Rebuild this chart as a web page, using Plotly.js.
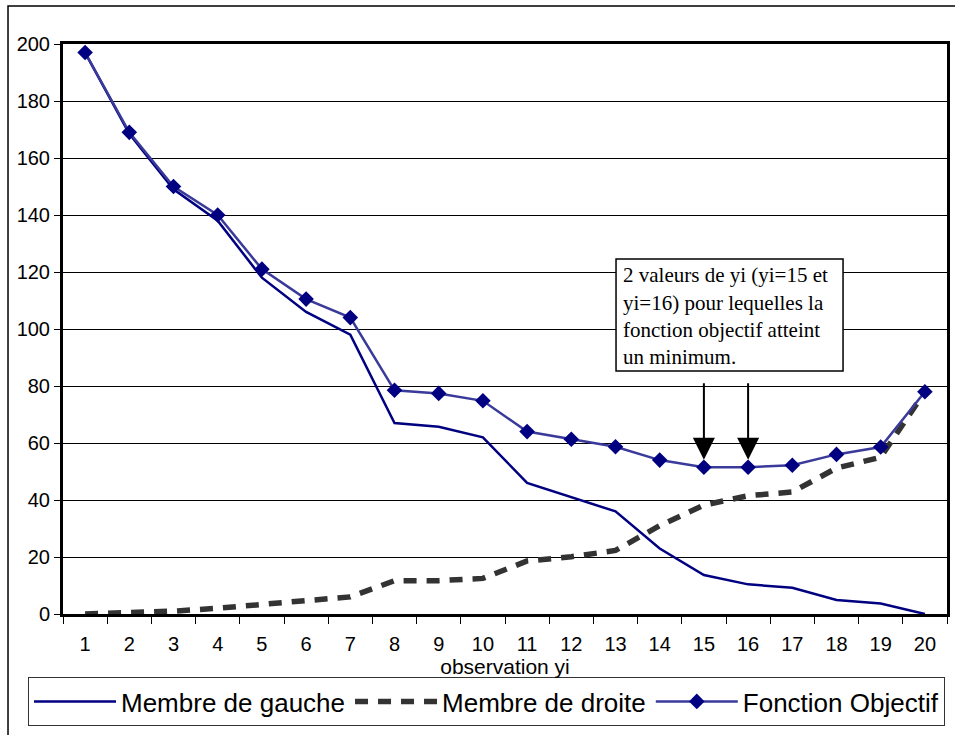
<!DOCTYPE html>
<html>
<head>
<meta charset="utf-8">
<script src="https://cdn.plot.ly/plotly-3.0.1.min.js"></script>
<style>html,body{margin:0;padding:0;background:#fff;}#chart{width:955px;height:735px;}</style>
</head>
<body>
<div id="chart"></div>
<script>
// ---- data ----
const categories = ['1','2','3','4','5','6','7','8','9','10','11','12','13','14','15','16','17','18','19','20'];
const membreGauche = [197, 168.5, 149, 138, 118, 106, 98, 67, 65.7, 62, 46, 41, 36, 23, 13.7, 10.4, 9.2, 4.9, 3.7, 0];
const membreDroite = [0, 0.5, 1, 2, 3.5, 4.7, 6, 11.7, 11.7, 12.5, 18.6, 20.1, 22.3, 31, 38.2, 41.5, 42.8, 51.2, 55, 78];
const fonctionObjectif = [197, 169, 150, 140, 121, 110.5, 104, 78.5, 77.4, 74.8, 64, 61.3, 58.7, 54, 51.5, 51.5, 52.2, 56, 58.6, 78];
const seriesNames = ['Membre de gauche', 'Membre de droite', 'Fonction Objectif'];
const yTicks = [0, 20, 40, 60, 80, 100, 120, 140, 160, 180, 200];
const xTitle = 'observation yi';
const noteLines = ['2 valeurs de yi (yi=15 et', 'yi=16) pour lequelles la', 'fonction objectif atteint', 'un minimum.'];
const minimumAt = ['15', '16'];

const sans = 'Liberation Sans, Arial, sans-serif';
const serif = 'Liberation Serif, Times New Roman, serif';

const traces = [
  {x: categories, y: membreGauche, name: seriesNames[0], type: 'scatter', mode: 'lines',
   line: {color: '#000080', width: 2.5}},
  {x: categories, y: membreDroite, name: seriesNames[1], type: 'scatter', mode: 'lines',
   line: {color: '#333333', width: 5.5, dash: '13px,10px'}},
  {x: categories, y: fonctionObjectif, name: seriesNames[2], type: 'scatter', mode: 'lines+markers',
   line: {color: '#3a3a9a', width: 2.5},
   marker: {symbol: 'diamond', size: 12, color: '#000080'}, cliponaxis: false}
];

const annotations = [];
const lineY = [0.5947, 0.5461, 0.4982, 0.4509];
noteLines.forEach((t, i) => {
  annotations.push({xref: 'paper', yref: 'paper', x: 0.631, y: lineY[i], xanchor: 'left', yanchor: 'middle',
    text: t, showarrow: false, font: {family: serif, size: 21, color: '#000'}});
});
minimumAt.forEach(c => {
  const idx = categories.indexOf(c);
  annotations.push({xref: 'x', yref: 'y', x: idx, y: fonctionObjectif[idx] + 2.6, text: '',
    showarrow: true, arrowhead: 2, arrowsize: 2.2, arrowwidth: 2, arrowcolor: '#000',
    axref: 'pixel', ayref: 'pixel', ax: 0, ay: -78, standoff: 0});
});

const layout = {
  width: 955, height: 735,
  margin: {l: 63, r: 8, t: 44, b: 121},
  paper_bgcolor: '#fff', plot_bgcolor: '#fff',
  font: {family: sans, color: '#000', size: 20},
  showlegend: true,
  legend: {orientation: 'h', x: -0.0396, y: -0.1105, xanchor: 'left', yanchor: 'top',
    bordercolor: '#333', borderwidth: 1, bgcolor: '#fff', itemwidth: 82,
    font: {family: sans, size: 26, color: '#000'}},
  xaxis: {type: 'category', range: [-0.5, 19.5], tickson: 'boundaries',
    showgrid: false, showline: true, linecolor: '#000', linewidth: 3, mirror: true,
    ticks: 'outside', ticklen: 7, tickcolor: '#000', tickwidth: 1,
    ticklabelstandoff: 10,
    tickfont: {family: sans, size: 20, color: '#000'},
    title: {text: xTitle, font: {family: sans, size: 21, color: '#000'}, standoff: 0},
    zeroline: false, fixedrange: true},
  yaxis: {range: [0, 200], tickvals: yTicks, showgrid: true, gridcolor: '#000', gridwidth: 1,
    showline: true, linecolor: '#000', linewidth: 3, mirror: true,
    ticks: 'outside', ticklen: 6, tickcolor: '#000', tickwidth: 1,
    tickfont: {family: sans, size: 20, color: '#000'}, zeroline: false, fixedrange: true},
  shapes: [
    {type: 'rect', xref: 'paper', yref: 'paper', x0: -0.0622, x1: 1.2, y0: -0.5, y1: 1.0667,
     line: {color: '#000', width: 1.5}, fillcolor: 'rgba(0,0,0,0)', layer: 'below'},
    {type: 'rect', xref: 'paper', yref: 'paper', x0: 0.6256, x1: 0.8824, y0: 0.4263, y1: 0.6228,
     line: {color: '#000', width: 1.5}, fillcolor: '#fff', layer: 'above'}
  ],
  annotations: annotations
};

Plotly.newPlot('chart', traces, layout, {displayModeBar: false, staticPlot: true});
</script>
</body>
</html>
